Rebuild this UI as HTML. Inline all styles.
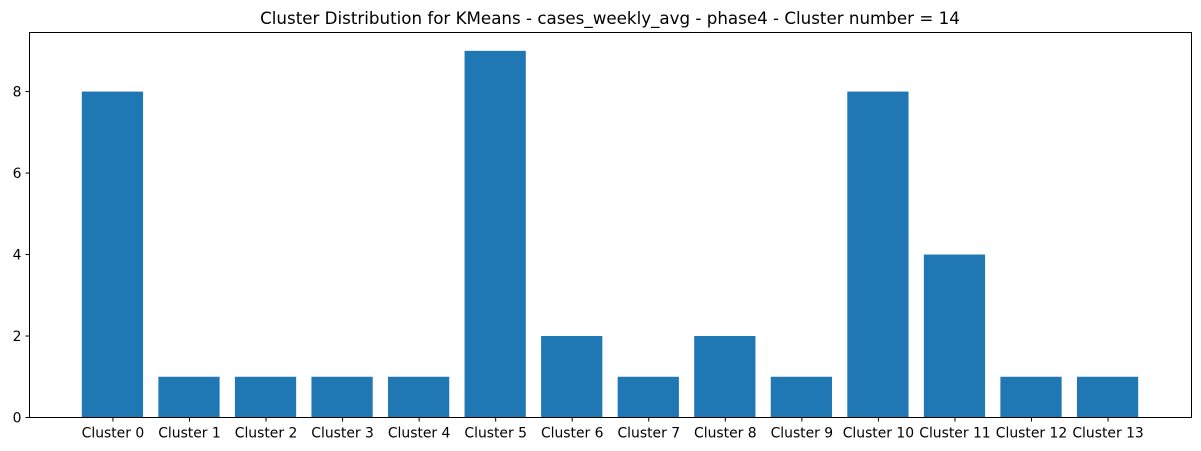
<!DOCTYPE html>
<html><head><meta charset="utf-8"><style>
body{margin:0;background:#fff;}
svg{display:block;font-family:"DejaVu Sans","Liberation Sans",sans-serif;}
</style></head><body>
<svg id="chart" width="1201" height="451">
<text x="610" y="24" text-anchor="middle" font-size="16.7" fill="#000">Cluster Distribution for KMeans - cases_weekly_avg - phase4 - Cluster number = 14</text>
<g id="bars"></g><g id="xticks"></g><g id="yticks"></g>
<rect x="29.5" y="32.5" width="1162" height="385" fill="none" stroke="#000" stroke-width="1"/>
</svg>
<script>
const categories=["Cluster 0","Cluster 1","Cluster 2","Cluster 3","Cluster 4","Cluster 5","Cluster 6","Cluster 7","Cluster 8","Cluster 9","Cluster 10","Cluster 11","Cluster 12","Cluster 13"];
const counts=[8,1,1,1,1,9,2,1,2,1,8,4,1,1];
const yTickValues=[0,2,4,6,8];
const NS="http://www.w3.org/2000/svg";
const L=29.5,R=1191.5,T=32.5,B=417.5;
const n=categories.length;
const xmin=-0.4-0.05*(n-1+0.8),xmax=n-1+0.4+0.05*(n-1+0.8);
const ymax=Math.max(...counts)*1.05;
const xs=v=>L+(v-xmin)/(xmax-xmin)*(R-L);
const ys=v=>B-v/ymax*(B-T);
const bw=xs(0.8)-xs(0);
const bars=document.getElementById('bars'),xt=document.getElementById('xticks'),yt=document.getElementById('yticks');
function mk(t,a,p){const e=document.createElementNS(NS,t);for(const k in a)e.setAttribute(k,a[k]);p.appendChild(e);return e;}
categories.forEach((c,i)=>{
 const r=mk('rect',{x:xs(i)-bw/2-0.5,y:ys(counts[i]),width:bw,height:ys(0)-ys(counts[i]),fill:'#1f77b4'},bars);
 
 
 mk('line',{x1:xs(i),x2:xs(i),y1:B,y2:B+4,stroke:'#000'},xt);
 const t=mk('text',{x:xs(i),y:B+20,'text-anchor':'middle','font-size':13.9},xt);
 t.textContent=c;
 
 
});
yTickValues.forEach(v=>{
 mk('line',{x1:L-4,x2:L,y1:ys(v),y2:ys(v),stroke:'#000'},yt);
 const t=mk('text',{x:L-8,y:ys(v)+5,'text-anchor':'end','font-size':13.9},yt);
 t.textContent=v;
 
 
});
</script>
</body></html>
